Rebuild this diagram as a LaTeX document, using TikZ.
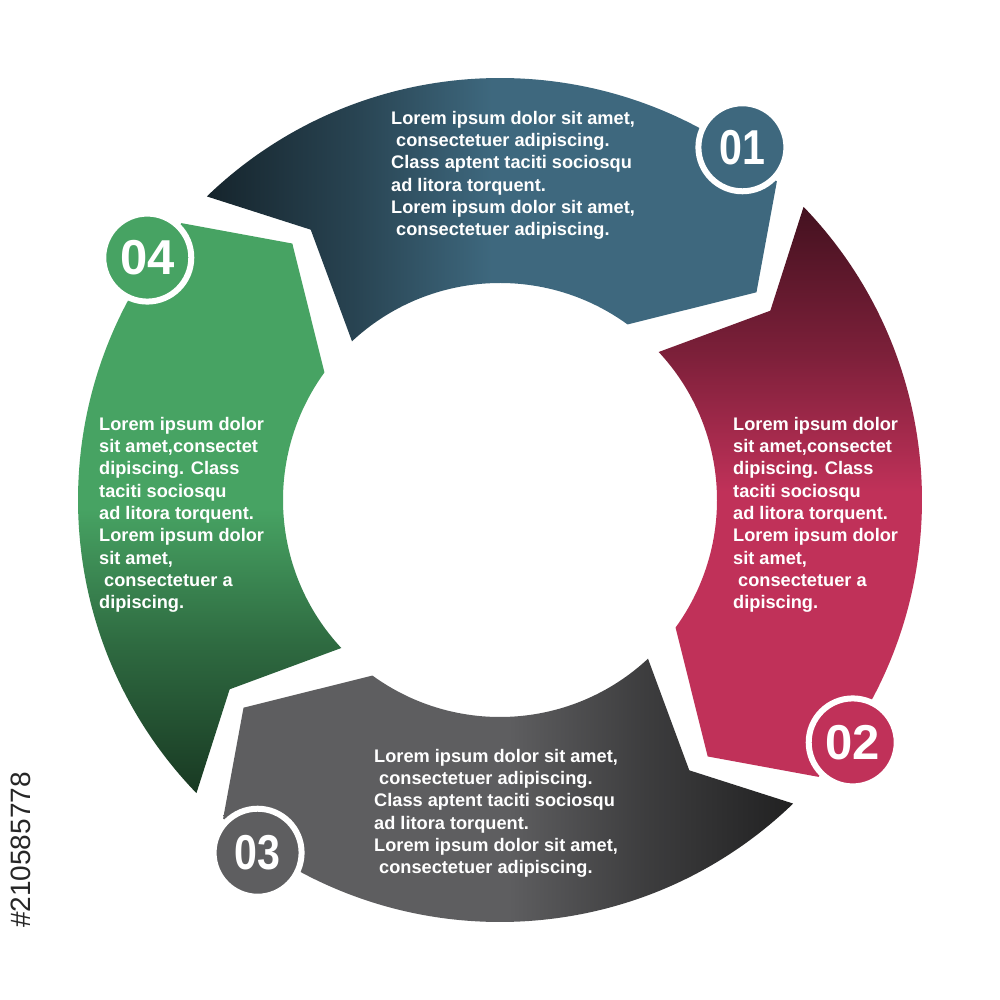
\documentclass[tikz,border=0pt]{standalone}
\usepackage{fontspec}
\setmainfont{Liberation Sans}
\newfontfamily\narrowsans[FakeStretch=0.84]{Liberation Sans}
\usepackage{xcolor}
\usepackage{tikz}
\definecolor{segblue}{RGB}{62,104,126}
\definecolor{segred}{RGB}{192,49,89}
\definecolor{seggray}{RGB}{94,94,96}
\definecolor{seggreen}{RGB}{71,163,99}
\colorlet{segc}{segblue}
\colorlet{tailc}{black}
\colorlet{midc}{black}
\pgfdeclareverticalshading[segc,midc,tailc]{tailfade}{100bp}{color(0bp)=(segc); color(50bp)=(segc); color(62bp)=(midc); color(75bp)=(tailc); color(100bp)=(tailc)}
\newcommand{\ringout}{422}
\newcommand{\ringin}{217}
\newcommand{\ringmid}{330}

\begin{document}
\begin{tikzpicture}[
  x=1pt, y=1pt,
  txt/.style={text=white, font=\fontsize{18.2}{22.3}\selectfont\bfseries, align=left, inner sep=0pt, anchor=north west},
  badge/.style={circle, draw=white, line width=6pt, minimum size=88pt, inner sep=0pt, text=white, font=\fontsize{49}{49}\selectfont\bfseries},
  narrownum/.style={font=\narrowsans\fontsize{49}{49}\selectfont\bfseries},
  idtxt/.style={rotate=90, text=black!85, font=\fontsize{28}{28}\selectfont}
]
\useasboundingbox (-500,-500) rectangle (500,500);
\fill[white] (-500,-500) rectangle (500,500);
% ring of four arrow segments, dark at the tail
\foreach \t/\h/\c/\a in {135/45/segblue/90, 45/-45/segred/0, -45/-135/seggray/-90, -135/-225/seggreen/180}{
  \colorlet{segc}{\c}\colorlet{tailc}{\c!35!black}\colorlet{midc}{\c!65!black}
  \shade[shading=tailfade, shading angle=\a]
    (\t-1:\ringout) arc[start angle=\t-1, end angle=\h+4, radius=\ringout]
    -- (\h-6:\ringmid) -- (\h+9:\ringin)
    arc[start angle=\h+9, end angle=\t-2, radius=\ringin]
    -- (\t-10:\ringmid) -- cycle;
}
% number badges
\node[badge, fill=segblue, narrownum] (b1) at (55.5:428) {01};
\node[badge, fill=segred] (b2) at (-34.5:428) {02};
\node[badge, fill=seggray, narrownum] (b3) at (-124.5:428) {03};
\node[badge, fill=seggreen] (b4) at (145.5:428) {04};
% texts
\node[txt] (t1) at (-109,389) {Lorem ipsum dolor sit amet,\\\hspace*{5pt}consectetuer adipiscing.\\Class aptent taciti sociosqu\\ad litora torquent.\\Lorem ipsum dolor sit amet,\\\hspace*{5pt}consectetuer adipiscing.};
\node[txt] (t2) at (233,83) {Lorem ipsum dolor\\sit amet,consectet\\dipiscing. Class\\taciti sociosqu\\ad litora torquent.\\Lorem ipsum dolor\\sit amet,\\\hspace*{5pt}consectetuer a\\dipiscing.};
\node[txt] (t3) at (-126,-249) {Lorem ipsum dolor sit amet,\\\hspace*{5pt}consectetuer adipiscing.\\Class aptent taciti sociosqu\\ad litora torquent.\\Lorem ipsum dolor sit amet,\\\hspace*{5pt}consectetuer adipiscing.};
\node[txt] (t4) at (-401,83) {Lorem ipsum dolor\\sit amet,consectet\\dipiscing. Class\\taciti sociosqu\\ad litora torquent.\\Lorem ipsum dolor\\sit amet,\\\hspace*{5pt}consectetuer a\\dipiscing.};
\node[idtxt] (id) at (-479,-350) {\#210585778};
\end{tikzpicture}
\end{document}
